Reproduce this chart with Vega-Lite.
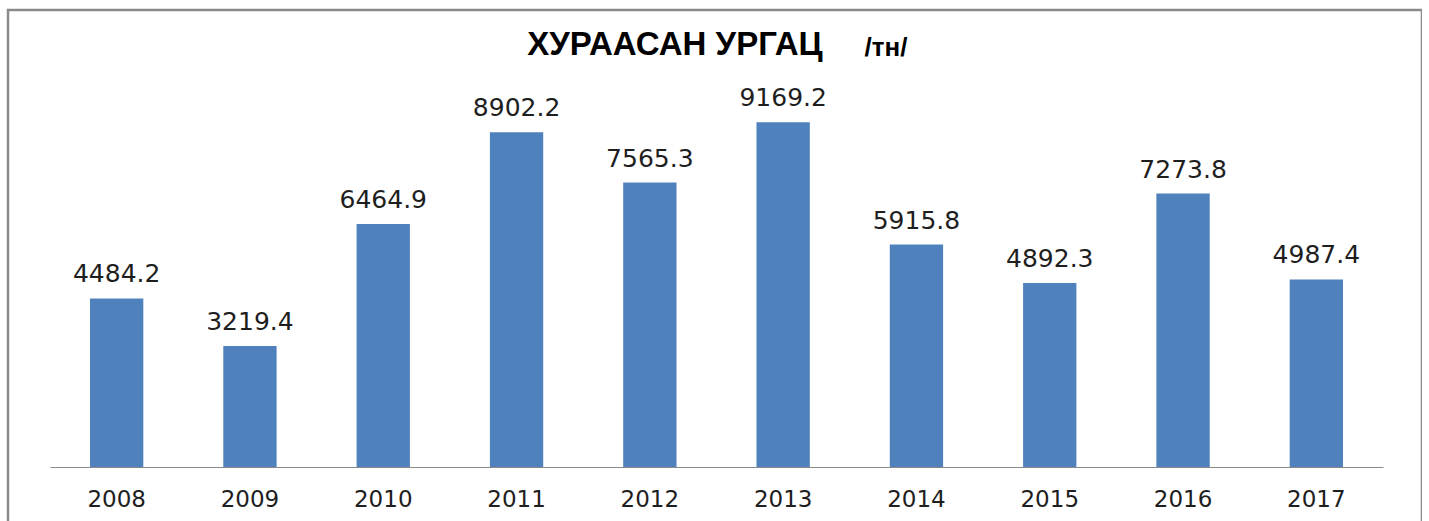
{
  "$schema": "https://vega.github.io/schema/vega-lite/v6.json",
  "width": 1414,
  "height": 530,
  "autosize": {"type": "none"},
  "padding": {"left": 8, "top": 10, "right": 0, "bottom": 0},
  "background": "white",
  "title": {
    "text": "ХУРААСАН УРГАЦ",
    "font": "Liberation Sans",
    "fontSize": 33,
    "fontWeight": "bold",
    "color": "#000000",
    "anchor": "middle",
    "dx": -40,
    "dy": 33,
    "offset": -45,
    "baseline": "alphabetic"
  },
  "data": {
    "values": [
      {"year": "2008", "value": 4484.2},
      {"year": "2009", "value": 3219.4},
      {"year": "2010", "value": 6464.9},
      {"year": "2011", "value": 8902.2},
      {"year": "2012", "value": 7565.3},
      {"year": "2013", "value": 9169.2},
      {"year": "2014", "value": 5915.8},
      {"year": "2015", "value": 4892.3},
      {"year": "2016", "value": 7273.8},
      {"year": "2017", "value": 4987.4}
    ]
  },
  "encoding": {
    "x": {
      "field": "year",
      "type": "nominal",
      "sort": null,
      "scale": {"range": [42, 1375], "paddingInner": 0.6, "paddingOuter": 0.3},
      "axis": {
        "title": null,
        "orient": "bottom",
        "offset": -73,
        "labelAngle": 0,
        "labelFont": "DejaVu Sans",
        "labelFontSize": 23,
        "labelColor": "#1e1e1e",
        "labelBaseline": "alphabetic",
        "labelPadding": 39,
        "ticks": false,
        "tickSize": 0,
        "domainColor": "#8a8a8a",
        "domainWidth": 1.2,
        "grid": false
      }
    },
    "y": {
      "field": "value",
      "type": "quantitative",
      "scale": {"domain": [0, 10000], "range": [457, 81], "nice": false},
      "axis": {
        "title": "/тн/",
        "titleAngle": 0,
        "titleX": 856,
        "titleY": 45,
        "titleAlign": "left",
        "titleBaseline": "alphabetic",
        "titleFont": "Liberation Sans",
        "titleFontSize": 26,
        "titleFontWeight": "bold",
        "titleColor": "#000000",
        "labels": false,
        "ticks": false,
        "domain": false,
        "grid": false
      }
    }
  },
  "layer": [
    {"mark": {"type": "bar", "color": "#4f81bd"}},
    {
      "mark": {
        "type": "text",
        "font": "DejaVu Sans",
        "fontSize": 25,
        "color": "#1e1e1e",
        "baseline": "alphabetic",
        "dy": -16
      },
      "encoding": {"text": {"field": "value", "type": "quantitative", "format": ".1f"}}
    }
  ],
  "config": {
    "view": {"stroke": "#8a8a8a", "strokeWidth": 2.5}
  }
}
